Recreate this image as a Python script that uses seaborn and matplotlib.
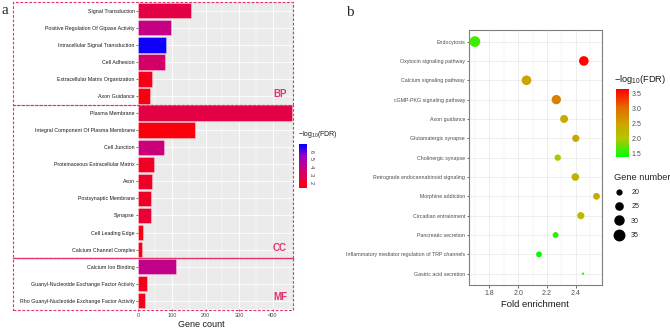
import numpy as np
import pandas as pd
import seaborn as sns
import matplotlib.pyplot as plt
from matplotlib.colors import LinearSegmentedColormap, Normalize
from matplotlib.cm import ScalarMappable
from matplotlib.patches import Rectangle
from matplotlib.lines import Line2D

sns.set_theme(style='white')
plt.rcParams['font.family'] = ['Liberation Sans', 'DejaVu Sans']
plt.rcParams['mathtext.default'] = 'regular'

# --- panel a: GO terms ---
go_terms = ['Signal Transduction', 'Positive Regulation Of Gtpase Activity',
            'Intracellular Signal Transduction', 'Cell Adhesion',
            'Extracellular Matrix Organization', 'Axon Guidance',
            'Plasma Membrane', 'Integral Component Of Plasma Membrane',
            'Cell Junction', 'Proteinaceous Extracellular Matrix', 'Axon',
            'Postsynaptic Membrane', 'Synapse', 'Cell Leading Edge',
            'Calcium Channel Complex', 'Calcium Ion Binding',
            'Guanyl-Nucleotide Exchange Factor Activity',
            'Rho Guanyl-Nucleotide Exchange Factor Activity']
go_counts = [158, 96, 82, 78, 40, 34, 456, 170, 77, 47, 41, 38, 37, 13, 11, 113, 27, 21]
go_fdr = [2.55, 3.95, 6.8, 3.3, 1.75, 1.6, 2.55, 1.55, 3.7, 1.95, 2.0, 2.0, 2.25,
          1.6, 1.65, 4.1, 1.85, 1.85]
go_groups = ['BP', 'CC', 'MF']

# --- panel b: KEGG pathways ---
kegg_terms = ['Endocytosis', 'Oxytocin signaling pathway', 'Calcium signaling pathway',
              'cGMP-PKG signaling pathway', 'Axon guidance', 'Glutamatergic synapse',
              'Cholinergic synapse', 'Retrograde endocannabinoid signaling',
              'Morphine addiction', 'Circadian entrainment', 'Pancreatic secretion',
              'Inflammatory mediator regulation of TRP channels', 'Gastric acid secretion']
kegg_fold = [1.70, 2.456, 2.058, 2.265, 2.319, 2.40, 2.275, 2.397, 2.544, 2.435,
             2.26, 2.145, 2.45]
kegg_genes = [36, 32, 32, 31, 27, 25, 23, 26, 24, 25, 22, 22, 17]
kegg_fdr = [1.62, 3.6, 2.5, 2.85, 2.4, 2.45, 2.05, 2.3, 2.4, 2.2, 1.55, 1.45, 1.6]
size_levels = [20, 25, 30, 35]

W, H = 670, 329
fig = plt.figure(figsize=(W / 100, H / 100), dpi=100)


def box(l, t, r, b):
    # pixel box -> figure fraction rect
    return [l / W, 1 - b / H, (r - l) / W, (b - t) / H]


crimson = '#E3336B'

# ---------------- panel a ----------------
ax_a = fig.add_axes(box(138.3, 2.2, 293, 309.3))
red_blue = LinearSegmentedColormap.from_list(
    'rb', ['#ff0000', '#e0004e', '#c2008a', '#9000c8', '#0000ff'])
norm_a = Normalize(1.3, 6.95)
bar_colors = [red_blue(norm_a(v)) for v in go_fdr]

go_df = pd.DataFrame({'term': go_terms, 'count': go_counts})
sns.barplot(data=go_df, x='count', y='term', hue='term', palette=bar_colors,
            legend=False, width=0.9, saturation=1, ax=ax_a,
            edgecolor=(1, 1, 1, 0.45), linewidth=0.5)

ax_a.set_facecolor('#EBEBEB')
ax_a.set_xlim(0, 460)
ax_a.set_ylim(17.5, -0.5)
ax_a.set_xticks(range(0, 401, 100))
ax_a.set_xticks(range(50, 460, 100), minor=True)
ax_a.grid(which='major', color='white', lw=0.6)
ax_a.grid(which='minor', axis='x', color='white', lw=0.3)
ax_a.set_axisbelow(True)
for s in ax_a.spines.values():
    s.set_visible(False)
ax_a.tick_params(axis='y', labelsize=3.8, length=1.5, width=0.5, color='#333333',
                 pad=1, labelcolor='#1a1a1a', left=True)
ax_a.tick_params(axis='x', labelsize=4, length=1.5, width=0.5, color='#333333',
                 pad=1, labelcolor='#4d4d4d', bottom=True)
ax_a.tick_params(which='minor', length=0)
ax_a.set_ylabel('')
ax_a.set_xlabel('Gene count', fontsize=6.5, color='#1a1a1a')
ax_a.xaxis.set_label_coords((201 - 138.3) / 154.7, -0.035)

# group boxes
for top, bot in [(2, 104.5), (104.5, 258.2), (258.2, 309.5)]:
    fig.add_artist(Rectangle((13.3 / W, 1 - bot / H), (293 - 13.3) / W, (bot - top) / H,
                             transform=fig.transFigure, fill=False, ec=crimson,
                             lw=0.8, ls=(0, (2.5, 1.5))))
fig.add_artist(Line2D([13.3 / W, 293 / W], [1 - 258.2 / H] * 2,
                      transform=fig.transFigure, color=crimson, lw=0.9))
for g, y in zip(go_groups, [94.3, 248, 297.3]):
    fig.text(287 / W, 1 - y / H, g, color=crimson, fontsize=7, fontweight='bold',
             ha='right', va='center')

# colorbar a
cax_a = fig.add_axes(box(299, 144.3, 306.5, 188.3))
cb_a = fig.colorbar(ScalarMappable(norm_a, red_blue), cax=cax_a)
cb_a.set_ticks([2, 3, 4, 5, 6])
cb_a.outline.set_visible(False)
cax_a.tick_params(labelsize=4, length=1.5, color='white', direction='in', pad=1.5,
                  labelcolor='#333333', labelrotation=270)
fig.text(298 / W, 1 - 134.7 / H, r'$-$log$_{10}$(FDR)', fontsize=5, va='center',
         color='#1a1a1a')

fig.text(1 / W, 1 - 10 / H, 'a', family='Liberation Serif', fontsize=11, va='center')

# ---------------- panel b ----------------
ax_b = fig.add_axes(box(469, 30, 601.7, 285.3))
green_red = LinearSegmentedColormap.from_list(
    'gr', [(0, '#00ff00'), (0.27, '#b0c800'), (0.49, '#cfa300'),
           (0.72, '#e07000'), (1, '#ff0000')])
norm_b = Normalize(1.4, 3.63)

kegg_df = pd.DataFrame({'term': kegg_terms, 'fold': kegg_fold,
                        'genes': kegg_genes, 'fdr': kegg_fdr})
sns.scatterplot(data=kegg_df, x='fold', y='term', hue='fdr', size='genes',
                palette=green_red, hue_norm=norm_b, sizes=(3, 60), size_norm=(17, 36),
                legend=False, edgecolor='none', zorder=3, ax=ax_b)

ax_b.set_facecolor('white')
ax_b.set_xlim(1.659, 2.58)
ax_b.set_ylim(12.6, -0.6)
ax_b.set_xticks([1.8, 2.0, 2.2, 2.4])
ax_b.set_xticks([1.7, 1.9, 2.1, 2.3, 2.5], minor=True)
ax_b.grid(which='major', color='#EBEBEB', lw=0.6)
ax_b.grid(which='minor', axis='x', color='#EBEBEB', lw=0.3)
ax_b.set_axisbelow(True)
for s in ax_b.spines.values():
    s.set_color('#7f7f7f')
    s.set_linewidth(0.8)
ax_b.tick_params(axis='y', labelsize=3.8, length=1.8, width=0.5, color='#333333',
                 pad=1, labelcolor='#4d4d4d', left=True)
ax_b.tick_params(axis='x', labelsize=5, length=1.8, width=0.5, color='#333333',
                 pad=1.5, labelcolor='#4d4d4d', bottom=True)
ax_b.tick_params(which='minor', length=0)
ax_b.set_xticklabels(['1.8', '2.0', '2.2', '2.4'])
ax_b.set_ylabel('')
ax_b.set_xlabel('Fold enrichment', fontsize=6.8, color='#1a1a1a', labelpad=2)

# colorbar b
cax_b = fig.add_axes(box(615.7, 89.3, 629, 157))
cb_b = fig.colorbar(ScalarMappable(norm_b, green_red), cax=cax_b)
cb_b.set_ticks([1.5, 2.0, 2.5, 3.0, 3.5])
cb_b.set_ticklabels(['1.5', '2.0', '2.5', '3.0', '3.5'])
cb_b.outline.set_visible(False)
cax_b.tick_params(labelsize=5, length=2.5, width=0.6, color='white', direction='in',
                  pad=2, labelcolor='#4d4d4d')
fig.text(614 / W, 1 - 79.3 / H, r'$-$log$_{10}$(FDR)', fontsize=6.7, va='center',
         color='#1a1a1a')

# size legend
handles = [Line2D([], [], ls='', marker='o', color='black',
                  markersize=np.sqrt(3 + (v - 17) / 19 * 57)) for v in size_levels]
fig.legend(handles, [str(v) for v in size_levels], title='Gene number',
           loc='upper left', bbox_to_anchor=(611 / W, 1 - 170 / H), frameon=False,
           fontsize=5, title_fontsize=6.7, labelspacing=1.05, handletextpad=0.9,
           alignment='left', borderaxespad=0, handlelength=1.6)

fig.text(346 / W, 1 - 12 / H, 'b', family='Liberation Serif', fontsize=11, va='center')

fig.savefig('out.png', dpi=100)
